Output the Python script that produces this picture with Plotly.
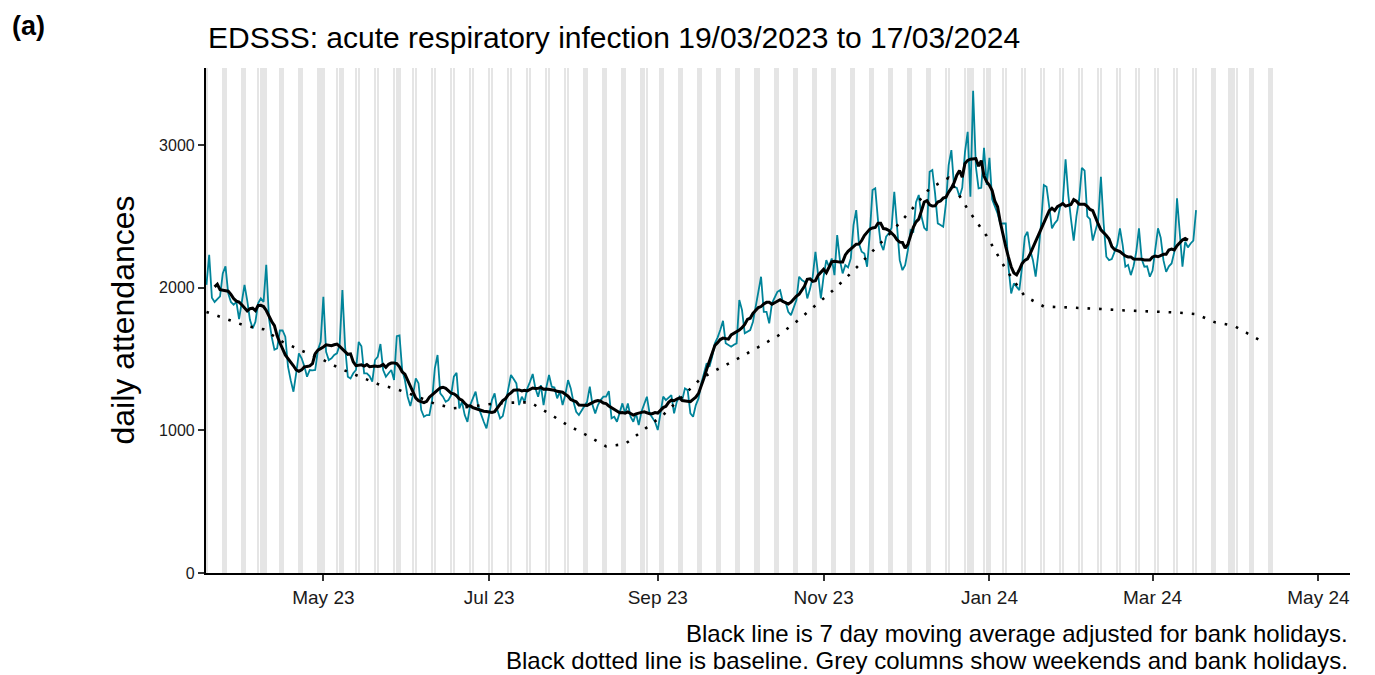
import pandas as pd
import plotly.graph_objects as go

START = "2023-03-19"

# Daily ARI attendances, one row per week (Sunday .. Saturday)
WEEKS = [
    [2020, 2230, 1930, 1900, 1920, 1940, 2100],
    [2150, 1960, 1900, 1880, 1900, 1780, 1900],
    [2020, 1910, 1775, 1715, 1760, 1890, 1925],
    [1900, 2160, 1785, 1655, 1565, 1575, 1700],
    [1700, 1656, 1446, 1350, 1271, 1400, 1540],
    [1505, 1450, 1376, 1423, 1420, 1423, 1563],
    [1620, 1936, 1551, 1493, 1505, 1528, 1540],
    [1600, 1983, 1586, 1376, 1364, 1400, 1423],
    [1620, 1590, 1400, 1400, 1380, 1341, 1493],
    [1516, 1605, 1423, 1376, 1400, 1423, 1353],
    [1660, 1665, 1423, 1353, 1236, 1170, 1250],
    [1364, 1330, 1142, 1095, 1107, 1107, 1212],
    [1434, 1528, 1259, 1236, 1200, 1212, 1247],
    [1376, 1403, 1154, 1200, 1107, 1060, 1177],
    [1230, 1271, 1166, 1107, 1060, 1014, 1107],
    [1212, 1259, 1142, 1084, 1100, 1189, 1294],
    [1388, 1360, 1329, 1177, 1236, 1200, 1294],
    [1340, 1395, 1294, 1236, 1317, 1177, 1300],
    [1388, 1306, 1300, 1224, 1271, 1177, 1250],
    [1352, 1294, 1200, 1130, 1107, 1140, 1177],
    [1200, 1306, 1177, 1119, 1177, 1212, 1236],
    [1236, 1275, 1084, 1095, 1060, 1130, 1189],
    [1119, 1189, 1095, 1060, 1119, 1037, 1130],
    [1180, 1236, 1119, 1090, 1060, 1002, 1130],
    [1236, 1212, 1230, 1247, 1119, 1200, 1236],
    [1212, 1294, 1282, 1119, 1095, 1177, 1224],
    [1329, 1400, 1470, 1446, 1516, 1610, 1650],
    [1703, 1768, 1610, 1598, 1586, 1600, 1610],
    [1913, 1843, 1680, 1691, 1703, 1760, 1855],
    [1971, 2077, 1831, 1831, 1750, 1890, 1930],
    [1971, 1983, 1901, 1901, 1831, 1808, 1860],
    [1913, 2077, 2053, 2041, 1925, 1990, 2077],
    [2252, 2100, 1925, 2077, 2193, 2147, 2205],
    [2088, 2369, 2193, 2100, 2158, 2142, 2205],
    [2439, 2544, 2310, 2252, 2240, 2147, 2381],
    [2684, 2696, 2474, 2310, 2263, 2357, 2381],
    [2420, 2672, 2404, 2193, 2123, 2158, 2263],
    [2404, 2392, 2600, 2650, 2500, 2420, 2400],
    [2812, 2824, 2661, 2451, 2440, 2427, 2591],
    [2859, 2964, 2707, 2700, 2637, 2700, 2950],
    [3093, 2637, 3380, 2850, 2696, 2700, 2980],
    [2720, 2910, 2620, 2570, 2520, 2450, 2450],
    [2451, 2147, 1960, 2030, 2007, 1983, 2147],
    [2357, 2392, 2263, 2193, 2077, 2240, 2450],
    [2719, 2707, 2567, 2416, 2451, 2474, 2567],
    [2600, 2900, 2650, 2480, 2330, 2500, 2620],
    [2840, 2820, 2500, 2480, 2330, 2400, 2470],
    [2777, 2451, 2217, 2193, 2200, 2250, 2300],
    [2416, 2300, 2147, 2160, 2088, 2150, 2250],
    [2416, 2200, 2147, 2150, 2077, 2120, 2250],
    [2416, 2350, 2193, 2111, 2150, 2170, 2250],
    [2626, 2400, 2147, 2322, 2282, 2310, 2330],
    [2544],
]

# Baseline, weekly points from 19/03/2023, then a final point
BASELINE_VALUES = [
    1830, 1780, 1735, 1708, 1620, 1558, 1503, 1434, 1378, 1325,
    1288, 1241, 1186, 1155, 1168, 1186, 1194, 1197, 1118, 1034,
    965, 888, 904, 1008, 1108, 1236, 1366, 1438, 1508, 1584,
    1660, 1762, 1878, 1990, 2120, 2255, 2391, 2540, 2695, 2770,
    2550, 2362, 2130, 1940, 1868, 1863, 1858, 1851, 1842, 1838,
    1830, 1826, 1815, 1757, 1733, 1660,
]
BASELINE_LAST_DATE = "2024-04-10"
BASELINE_LAST_VALUE = 1625

BANK_HOLIDAYS = [
    "2023-04-07", "2023-04-10", "2023-05-01", "2023-05-08", "2023-05-29",
    "2023-08-28", "2023-12-25", "2023-12-26", "2024-01-01", "2024-03-29",
    "2024-04-01",
]
GREY_FIRST, GREY_LAST = "2023-03-19", "2024-04-14"

X_TICKS = ["2023-05-01", "2023-07-01", "2023-09-01", "2023-11-01",
           "2024-01-01", "2024-03-01", "2024-05-01"]
X_TICK_LABELS = ["May 23", "Jul 23", "Sep 23", "Nov 23", "Jan 24", "Mar 24", "May 24"]
Y_TICKS = [0, 1000, 2000, 3000]
Y_MAX = 3540

TITLE = "EDSSS: acute respiratory infection 19/03/2023 to 17/03/2024"
CAPTION1 = "Black line is 7 day moving average adjusted for bank holidays."
CAPTION2 = "Black dotted line is baseline. Grey columns show weekends and bank holidays."

# ---------------------------------------------------------------------------
attend = [v for w in WEEKS for v in w]
dates = pd.date_range(START, periods=len(attend), freq="D")
ma = pd.Series(attend, dtype=float).rolling(7, center=True).mean()

b_dates = list(pd.date_range(START, periods=len(BASELINE_VALUES), freq="7D")) + [pd.Timestamp(BASELINE_LAST_DATE)]
b_vals = BASELINE_VALUES + [BASELINE_LAST_VALUE]

all_days = pd.date_range(GREY_FIRST, GREY_LAST, freq="D")
grey_days = [d for d in all_days if d.weekday() >= 5 or d.strftime("%Y-%m-%d") in BANK_HOLIDAYS]

FONT = "Liberation Sans, Arial, Helvetica, sans-serif"
TEAL = "#00849A"
DAY_MS = 86400000

fig = go.Figure()
fig.add_trace(go.Bar(
    x=grey_days, y=[Y_MAX] * len(grey_days), width=[0.85 * DAY_MS] * len(grey_days),
    marker=dict(color="#E5E5E5", line=dict(width=0)), hoverinfo="skip", showlegend=False,
))
fig.add_trace(go.Scatter(x=dates, y=attend, mode="lines",
                         line=dict(color=TEAL, width=1.8), showlegend=False))
fig.add_trace(go.Scatter(x=dates, y=ma, mode="lines",
                         line=dict(color="black", width=3), showlegend=False))
fig.add_trace(go.Scatter(x=b_dates, y=b_vals, mode="lines",
                         line=dict(color="black", width=2.6, dash="2.6px,9px"), showlegend=False))

# The page has an 8px body margin, so the figure is 8px smaller than the window
OFF = 8
W, H = 1375 - OFF, 675 - OFF
PL, PT = 206 - OFF, 68 - OFF
pw, ph = 1144, 505
PR, PB = W - PL - pw, H - PT - ph


def px_x(x):  # reference-picture pixel -> paper fraction
    return (x - 206) / pw


def px_y(y):
    return (573 - y) / ph


fig.update_layout(
    width=W, height=H,
    margin=dict(l=PL, r=PR, t=PT, b=PB, pad=0),
    plot_bgcolor="white", paper_bgcolor="white",
    font=dict(family=FONT, color="black"),
    bargap=0,
    xaxis=dict(
        type="date",
        range=["2023-03-18 20:00", "2024-05-12 15:00"],
        tickvals=X_TICKS, ticktext=X_TICK_LABELS,
        ticks="outside", ticklen=6, tickwidth=1.8, tickcolor="#333333",
        showline=True, linecolor="black", linewidth=2.2,
        showgrid=False, zeroline=False,
        tickfont=dict(size=19, color="#1a1a1a", family=FONT),
    ),
    yaxis=dict(
        range=[0, Y_MAX],
        tickvals=Y_TICKS, ticktext=[str(v) for v in Y_TICKS],
        ticks="outside", ticklen=6, tickwidth=1.8, tickcolor="#333333",
        showline=True, linecolor="black", linewidth=2.2,
        showgrid=False, zeroline=False,
        tickfont=dict(size=16, color="#1a1a1a", family=FONT),
    ),
    annotations=[
        dict(text=TITLE, xref="paper", yref="paper", x=px_x(206), y=px_y(38),
             xanchor="left", yanchor="middle", showarrow=False,
             font=dict(size=30, color="black", family=FONT)),
        dict(text="<b>(a)</b>", xref="paper", yref="paper", x=px_x(10), y=px_y(9),
             xanchor="left", yanchor="top", showarrow=False,
             font=dict(size=27, color="black", family=FONT)),
        dict(text="daily attendances", xref="paper", yref="paper", x=px_x(122), y=0.5,
             xanchor="center", yanchor="middle", textangle=-90, showarrow=False,
             font=dict(size=32, color="black", family=FONT)),
        dict(text=CAPTION1, xref="paper", yref="paper", x=1, y=px_y(633),
             xanchor="right", yanchor="middle", showarrow=False,
             font=dict(size=24, color="black", family=FONT)),
        dict(text=CAPTION2, xref="paper", yref="paper", x=1, y=px_y(660),
             xanchor="right", yanchor="middle", showarrow=False,
             font=dict(size=24, color="black", family=FONT)),
    ],
)

fig.write_html("out.html")
